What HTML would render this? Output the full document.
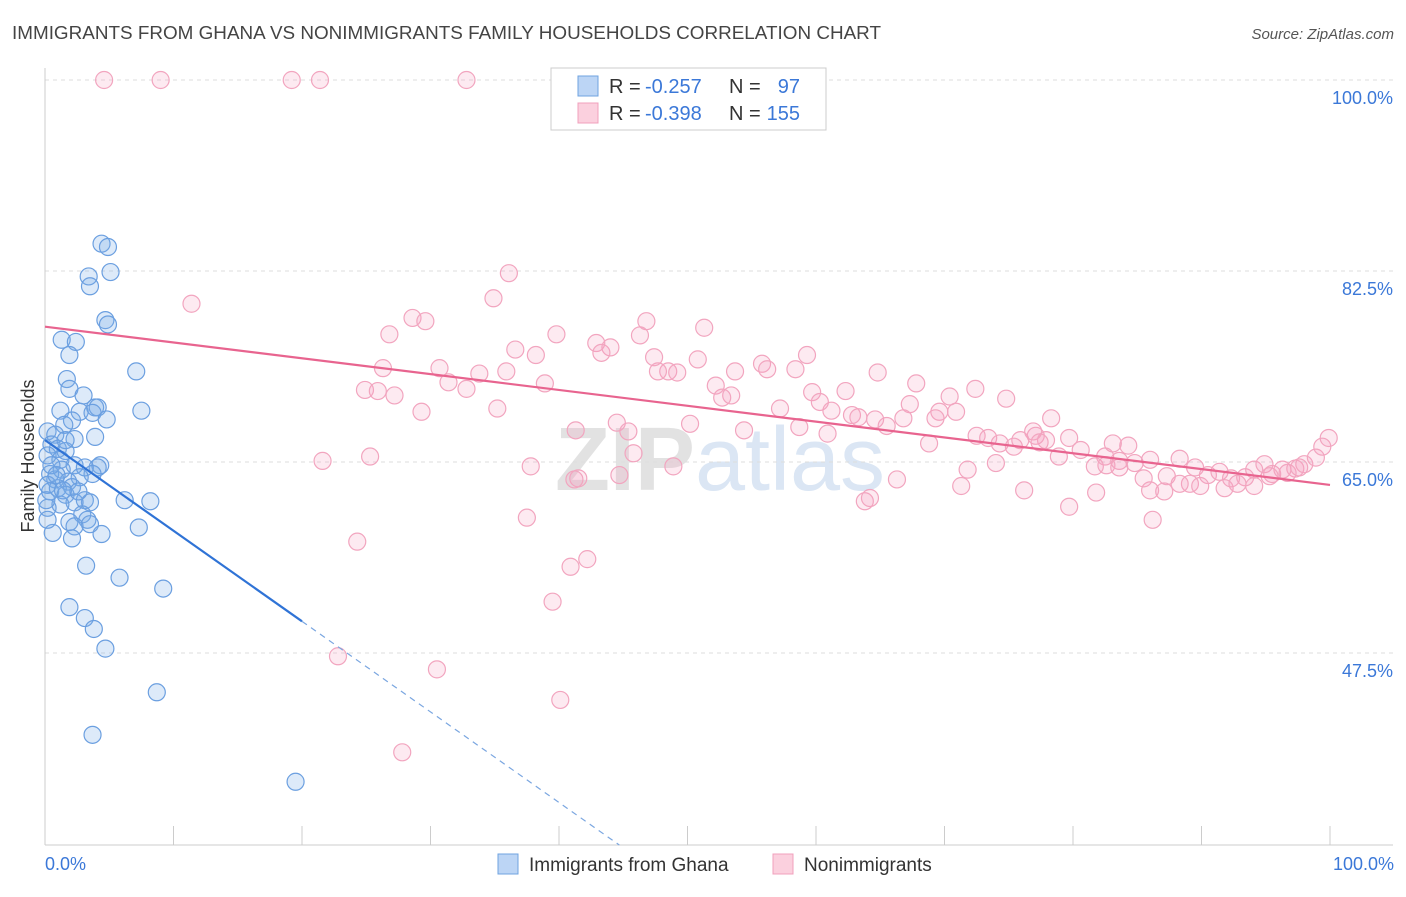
<!DOCTYPE html>
<html><head><meta charset="utf-8"><style>
body{margin:0;background:#fff;font-family:"Liberation Sans",sans-serif;}
svg text{font-family:"Liberation Sans",sans-serif;}
</style></head><body>
<svg width="1406" height="892" xmlns="http://www.w3.org/2000/svg" id="chart">
<text x="12" y="39" font-size="18" fill="#444" textLength="869" lengthAdjust="spacingAndGlyphs">IMMIGRANTS FROM GHANA VS NONIMMIGRANTS FAMILY HOUSEHOLDS CORRELATION CHART</text>
<text x="1394" y="39" font-size="15" fill="#555" text-anchor="end" font-style="italic">Source: ZipAtlas.com</text>
<text x="720" y="490" font-size="90" text-anchor="middle" fill="#e8e8e8" font-family="Liberation Serif"><tspan font-weight="bold" fill="#e2e2e2">ZIP</tspan><tspan fill="#dbe6f4" font-family="Liberation Sans">atlas</tspan></text>
<g id="grid"></g>
<g id="axes"></g>
<g id="pts"></g>
<g id="lines"></g>
<text transform="translate(34,456) rotate(-90)" font-size="18" fill="#333" text-anchor="middle">Family Households</text>
<text x="45" y="870" font-size="18" fill="#3b78d8">0.0%</text>
<text x="1394" y="870" font-size="18" fill="#3b78d8" text-anchor="end">100.0%</text>
<g>
<rect x="551" y="68" width="275" height="62" fill="#fff" stroke="#ccc"/>
<rect x="578" y="76" width="20" height="20" fill="#bcd5f5" stroke="#6fa3e0"/>
<rect x="578" y="103" width="20" height="20" fill="#fbd0de" stroke="#f0a0bc"/>
<text x="609" y="93" font-size="20" fill="#333">R =</text>
<text x="645" y="93" font-size="20" fill="#3b78d8">-0.257</text>
<text x="729" y="93" font-size="20" fill="#333">N =</text>
<text x="800" y="93" font-size="20" fill="#3b78d8" text-anchor="end">97</text>
<text x="609" y="120" font-size="20" fill="#333">R =</text>
<text x="645" y="120" font-size="20" fill="#3b78d8">-0.398</text>
<text x="729" y="120" font-size="20" fill="#333">N =</text>
<text x="800" y="120" font-size="20" fill="#3b78d8" text-anchor="end">155</text>
</g>
<g>
<rect x="498" y="854" width="20" height="20" fill="#bcd5f5" stroke="#6fa3e0"/>
<text x="529" y="871" font-size="19" fill="#333">Immigrants from Ghana</text>
<rect x="773" y="854" width="20" height="20" fill="#fbd0de" stroke="#f0a0bc"/>
<text x="804" y="871" font-size="19" fill="#333">Nonimmigrants</text>
</g>
</svg>
<script>
const yTicks=[100,82.5,65,47.5];
const yTickLabels=["100.0%","82.5%","65.0%","47.5%"];
const xTicks=[0,10,20,30,40,50,60,70,80,90,100];
const blueX=[4.4,4.9,3.4,5.1,3.5,4.7,4.9,1.3,2.4,1.9,7.1,1.7,1.9,3.0,7.5,1.2,2.7,3.9,4.1,3.7,4.8,2.1,1.5,0.2,0.8,2.3,3.9,0.5,1.0,1.6,0.2,1.2,2.3,4.3,4.1,3.1,1.3,0.4,3.7,2.7,0.8,1.8,0.2,1.0,2.1,0.4,1.6,3.1,3.5,2.3,6.2,8.2,1.2,0.2,2.9,1.9,3.3,3.5,7.3,2.3,0.6,2.1,4.4,3.2,5.8,9.2,1.9,3.1,3.8,4.7,8.7,3.7,19.5,0.2,0.5,0.9,1.4,2.6,1.6,0.1];
const blueY=[85.0,84.7,82.0,82.4,81.1,78.0,77.6,76.2,76.0,74.8,73.3,72.6,71.7,71.1,69.7,69.7,69.6,70.0,70.0,69.5,68.9,68.8,68.4,67.8,67.5,67.1,67.3,66.6,66.2,66.0,65.6,65.2,64.7,64.7,64.5,64.5,64.3,63.9,63.9,63.6,63.4,63.2,62.9,62.6,62.7,62.3,62.0,61.5,61.3,61.3,61.5,61.4,61.1,60.8,60.2,59.5,59.7,59.3,59.0,59.1,58.5,58.0,58.4,55.5,54.4,53.4,51.7,50.7,49.7,47.9,43.9,40.0,35.7,59.7,64.7,63.8,62.4,62.3,67.0,61.5];
const pinkX=[4.6,9.0,19.2,21.4,32.8,36.1,34.9,11.4,28.6,29.6,26.8,51.3,46.8,39.8,46.3,42.9,44.0,43.3,36.6,38.2,59.3,47.4,50.8,26.3,30.7,55.8,56.2,58.4,48.5,49.2,53.7,64.8,47.7,33.8,35.9,31.4,38.9,24.9,25.9,27.2,32.8,52.2,53.4,52.7,59.7,62.3,67.8,72.4,70.4,74.8,57.2,35.2,29.3,60.3,61.2,62.8,63.3,64.6,67.3,66.8,69.6,70.9,78.3,69.3,65.5,60.9,50.2,44.5,45.4,41.3,54.4,58.7,72.5,73.4,74.3,77.1,76.9,77.9,79.7,80.6,83.1,84.3,75.4,75.9,77.4,78.9,82.5,83.6,84.8,86.0,45.8,68.8,85.5,87.3,88.3,89.5,90.5,91.4,92.3,93.4,94.1,94.9,95.5,96.3,97.3,98.0,98.9,99.4,99.9,89.1,89.9,91.8,92.8,94.1,95.3,96.7,97.6,88.3,87.1,86.0,81.7,82.6,83.6,21.6,25.3,37.8,48.9,74.0,71.8,71.3,66.3,63.8,64.2,76.2,81.8,79.7,86.2,41.5,37.5,24.3,40.9,42.2,39.5,22.8,30.5,40.1,27.8,41.2,44.7];
const pinkY=[100,100,100,100,100,82.3,80.0,79.5,78.2,77.9,76.7,77.3,77.9,76.7,76.6,75.9,75.5,75.0,75.3,74.8,74.8,74.6,74.4,73.6,73.6,74.0,73.5,73.5,73.3,73.2,73.3,73.2,73.3,73.1,73.3,72.3,72.2,71.6,71.5,71.1,71.7,72.0,71.1,70.9,71.4,71.5,72.2,71.7,71.0,70.8,69.9,69.9,69.6,70.5,69.7,69.3,69.1,68.9,70.3,69.0,69.6,69.6,69.0,69.0,68.3,67.6,68.5,68.6,67.8,67.9,67.9,68.2,67.4,67.2,66.7,67.4,67.8,67.0,67.2,66.1,66.7,66.5,66.4,67.0,66.8,65.5,65.5,65.1,64.9,65.2,65.8,66.7,63.5,63.7,65.3,64.5,63.8,64.1,63.5,63.6,64.3,64.8,63.9,64.3,64.4,64.8,65.4,66.4,67.2,63.0,62.8,62.6,63.0,62.8,63.7,64.0,64.5,63.0,62.3,62.4,64.6,64.7,64.5,65.1,65.5,64.6,64.6,64.9,64.3,62.8,63.4,61.4,61.7,62.4,62.2,60.9,59.7,63.5,59.9,57.7,55.4,56.1,52.2,47.2,46.0,43.2,38.4,63.4,63.8];
const blueTrend=[67.0,-0.83];
const pinkTrend=[77.4,-0.145];
const X0=45,X1=1330,YTOP=80,PPY=10.914;
const sx=v=>X0+(X1-X0)*v/100;
const sy=v=>YTOP+(100-v)*PPY;
const NS="http://www.w3.org/2000/svg";
function mk(tag,parent,attrs){const e=document.createElementNS(NS,tag);for(const k in attrs)e.setAttribute(k,attrs[k]);document.getElementById(parent).appendChild(e);return e;}
yTicks.forEach((t,i)=>{
 const l=mk('line','grid',{x1:45,x2:1393,y1:sy(t),y2:sy(t),stroke:'#ddd','stroke-dasharray':'4,4'});
 
 
 const tx=mk('text','grid',{x:1393,y:sy(t)+24,'font-size':18,fill:'#3b78d8','text-anchor':'end'});
 tx.textContent=yTickLabels[i];
 
 
});
let a=mk('line','axes',{x1:45,x2:45,y1:68,y2:845,stroke:'#ccc'});


a=mk('line','axes',{x1:45,x2:1393,y1:845,y2:845,stroke:'#ccc'});


xTicks.forEach(t=>{const l=mk('line','axes',{x1:sx(t),x2:sx(t),y1:826,y2:845,stroke:'#ccc'});
 
 });
pinkX.forEach((x,i)=>{const c=mk('circle','pts',{cx:sx(x),cy:sy(pinkY[i]),r:8.5,fill:'rgba(244,160,190,0.22)',stroke:'#f2a5bf','stroke-width':1.2});
 
 });
blueX.forEach((x,i)=>{const c=mk('circle','pts',{cx:sx(x),cy:sy(blueY[i]),r:8.5,fill:'rgba(120,170,230,0.25)',stroke:'#6b9fe0','stroke-width':1.2});
 
 });
const by=x=>blueTrend[0]+blueTrend[1]*x;
const xEnd=(blueTrend[0]-29.9)/-blueTrend[1];
let t=mk('line','lines',{x1:sx(0),y1:sy(by(0)),x2:sx(20),y2:sy(by(20)),stroke:'#2f73d6','stroke-width':2.2});


t=mk('line','lines',{x1:sx(20),y1:sy(by(20)),x2:sx(xEnd),y2:sy(by(xEnd)),stroke:'#7aa6e0','stroke-width':1.2,'stroke-dasharray':'6,5'});


const py=x=>pinkTrend[0]+pinkTrend[1]*x;
t=mk('line','lines',{x1:sx(0),y1:sy(py(0)),x2:sx(100),y2:sy(py(100)),stroke:'#e8648f','stroke-width':2.2});


</script>
</body></html>
